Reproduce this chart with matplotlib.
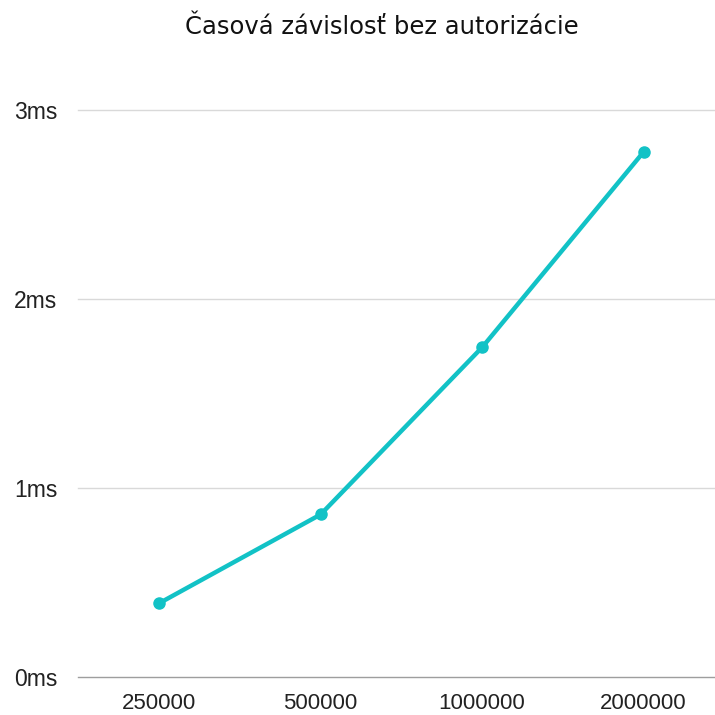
import numpy as np
import matplotlib
matplotlib.use('Agg')
import matplotlib.pyplot as plt

# data
categories = ['250000', '500000', '1000000', '2000000']
times_ms = [0.39, 0.86, 1.745, 2.78]
yticks = [0, 1, 2, 3]
ytick_labels = ['0ms', '1ms', '2ms', '3ms']

W, H = 715, 715
fig = plt.figure(figsize=(W/100, H/100), dpi=100)
fig.patch.set_facecolor('white')

# axes in pixel coords: left 78, right 715, bottom 677, top 110
ax = fig.add_axes([78/W, (H-677)/H, (W-78)/W, (677-110)/H])
ax.set_facecolor('white')

x = np.arange(len(categories))
ax.plot(x, times_ms, color='#12C2C6', lw=3.2, marker='o', ms=8,
        solid_capstyle='round', zorder=3, clip_on=False)

ax.set_xlim(-0.5015, 3.44)
ax.set_ylim(0, 3)

for v in yticks[1:]:
    ax.axhline(v, color='#d9d9d9', lw=1.0, zorder=1, clip_on=False)
ax.axhline(0, color='#9e9e9e', lw=1.0, zorder=2, clip_on=False)

for s in ax.spines.values():
    s.set_visible(False)
ax.set_xticks([])
ax.set_yticks([])

# y labels, left aligned near the image edge
for v, lab in zip(yticks, ytick_labels):
    ypix = 677 - v * 189
    fig.text(14/W, (H-ypix)/H, lab, ha='left', va='center_baseline',
             fontsize=16.5, family='Liberation Sans', color='#222222')

for i, lab in enumerate(categories):
    fig.text((78 + (i + 0.5015) * 161.5)/W, (H-701)/H, lab, ha='center',
             va='center_baseline', fontsize=16, family='Liberation Sans',
             color='#222222')

fig.text(382/W, (H-25)/H, 'Časová závislosť bez autorizácie', ha='center',
         va='center_baseline', fontsize=17.5, family='DejaVu Sans',
         color='#111111')

fig.savefig('out.png', dpi=100)
